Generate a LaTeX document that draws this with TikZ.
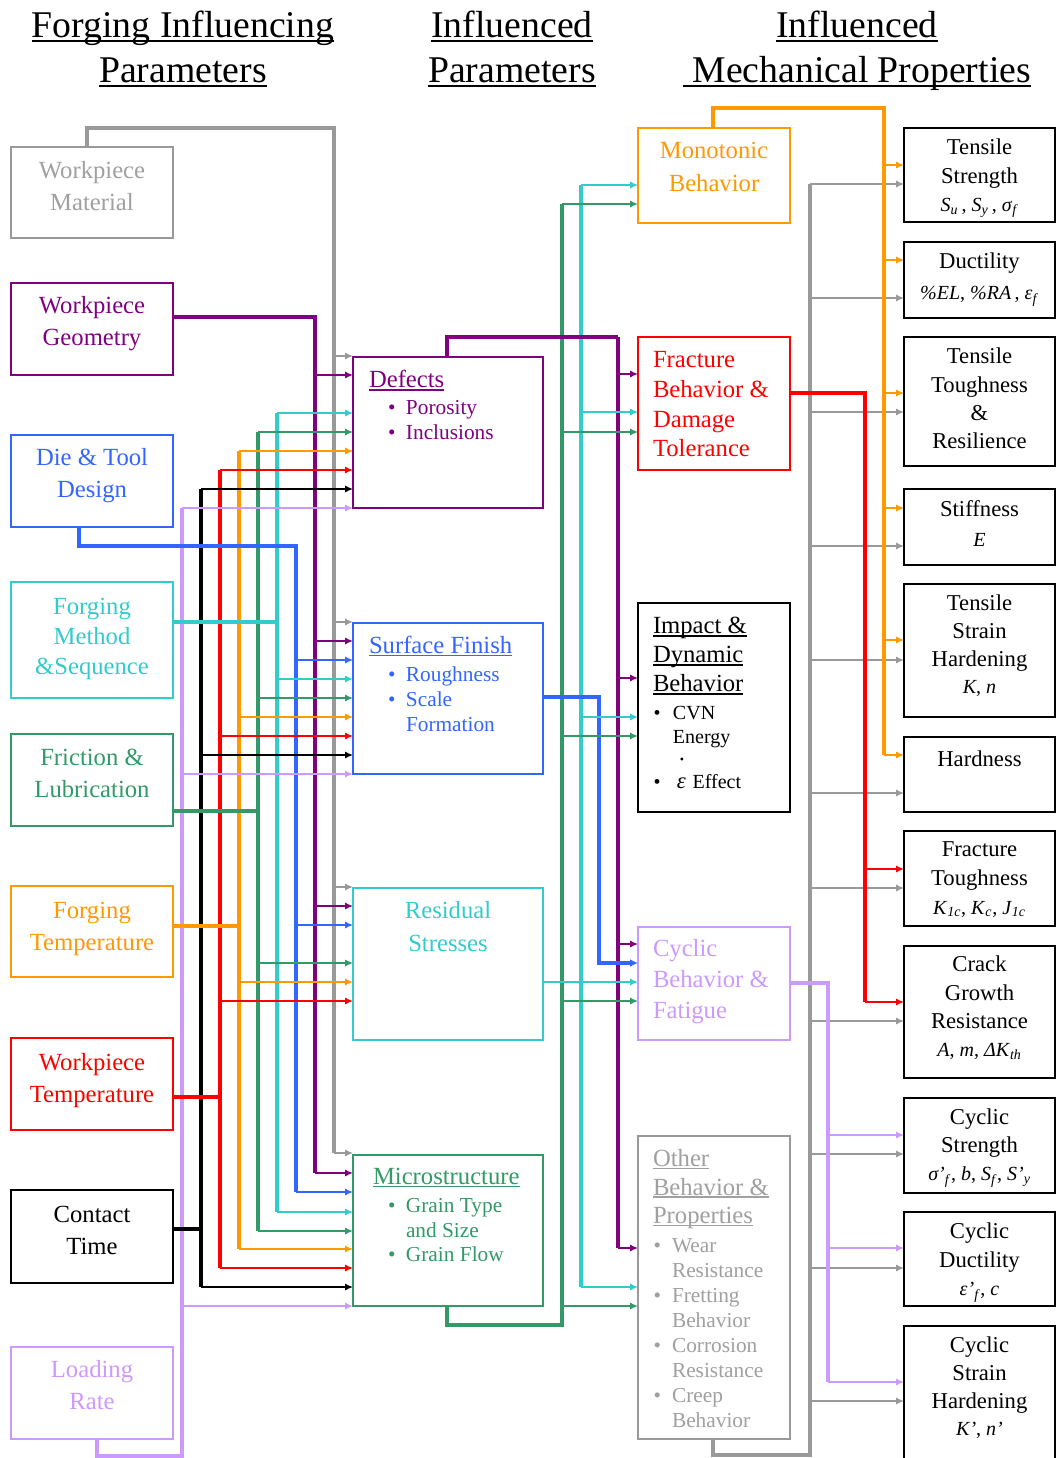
\documentclass[tikz,border=0pt]{standalone}
\usepackage{fontspec}
\setmainfont{Liberation Serif}
\usetikzlibrary{arrows.meta}
\definecolor{cgray}{HTML}{999999}
\definecolor{cgrayt}{HTML}{A0A0A0}
\definecolor{cpur}{HTML}{800080}
\definecolor{cblue}{HTML}{3366FF}
\definecolor{ccyan}{HTML}{33CCCC}
\definecolor{cgreen}{HTML}{339966}
\definecolor{corange}{HTML}{FF9900}
\definecolor{cred}{HTML}{FF0000}
\definecolor{clav}{HTML}{CC99FF}
\newsavebox\ulbx
\newcommand\ul[1]{\sbox\ulbx{#1}\rlap{\rule[-0.11em]{\wd\ulbx}{0.055em}}\usebox\ulbx}
\newcommand\fs[2]{\fontsize{#1}{#2}\selectfont}
\newcommand\bul[1]{\makebox[#1][l]{\textbullet}}
\newcommand\hng[1]{\makebox[#1]{}}
\newcommand\iv[2]{\textit{#1}\textsubscript{\textit{#2}}}
\newcommand\mkbox[6]{\node[bx,draw=#6,minimum width={(#4-#2)*0.75pt},minimum height={(#5-#3)*0.75pt}] (#1) at (#2,#3) {};}
\begin{document}
\begin{tikzpicture}[x=0.75pt,y=-0.75pt,line join=miter,
  bx/.style={rectangle,inner sep=0pt,outer sep=0pt,anchor=north west,line width=0.9pt},
  thk/.style={line width=3.2pt},
  bus/.style={line width=2.6pt},
  br/.style={line width=1.7pt,-{Latex[length=6pt,width=5.5pt]}},
  brt/.style={line width=3.2pt,-{Latex[length=6pt,width=6pt]}},
  tx/.style={inner sep=0pt,outer sep=0pt}]
\useasboundingbox (0,0) rectangle (1057,1458);
\clip (0,0) rectangle (1057,1458);
\fill[white] (0,0) rectangle (1057,1458);

% ---------- boxes ----------
\mkbox{mat}{11}{147}{173}{238}{cgray}
\mkbox{geo}{11}{283}{173}{375}{cpur}
\mkbox{die}{11}{435}{173}{527}{cblue}
\mkbox{fm}{11}{582}{173}{698}{ccyan}
\mkbox{fl}{11}{734}{173}{826}{cgreen}
\mkbox{ft}{11}{886}{173}{977}{corange}
\mkbox{wt}{11}{1038}{173}{1130}{cred}
\mkbox{ct}{11}{1190}{173}{1283}{black}
\mkbox{lr}{11}{1347}{173}{1439}{clav}

\mkbox{def}{353}{357}{543}{508}{cpur}
\mkbox{sf}{353}{623}{543}{774}{cblue}
\mkbox{rs}{353}{888}{543}{1040}{ccyan}
\mkbox{mic}{353}{1155}{543}{1306}{cgreen}

\mkbox{mono}{638}{128}{790}{223}{corange}
\mkbox{frac}{638}{337}{790}{470}{cred}
\mkbox{imp}{638}{603}{790}{812}{black}
\mkbox{cyc}{638}{927}{790}{1040}{clav}
\mkbox{oth}{638}{1136}{790}{1439}{cgray}

\mkbox{ts}{904}{128}{1055}{222}{black}
\mkbox{du}{904}{242}{1055}{318}{black}
\mkbox{tt}{904}{337}{1055}{466}{black}
\mkbox{st}{904}{489}{1055}{565}{black}
\mkbox{tsh}{904}{584}{1055}{717}{black}
\mkbox{hd}{904}{737}{1055}{812}{black}
\mkbox{ftg}{904}{831}{1055}{926}{black}
\mkbox{cg}{904}{946}{1055}{1078}{black}
\mkbox{cs}{904}{1098}{1055}{1193}{black}
\mkbox{cd}{904}{1212}{1055}{1306}{black}
\mkbox{csh}{904}{1326}{1055}{1470}{black}

% ---------- left routes ----------
\draw[thk,cgray] (87,0 |- mat.north) -- (87,128) -- (334,128) -- (334,1153);
\draw[thk,cpur] (geo.east |- 0,317) -- (315,317) -- (315,1173);
\draw[thk,clav] (97,0 |- lr.south) -- (97,1456) -- (182,1456) -- (182,508);
\draw[bus,black] (201,489) -- (201,1287);
\draw[thk,black] (ct.east |- 0,1229) -- (201,1229);
\draw[bus,cred] (220,470) -- (220,1268);
\draw[thk,cred] (wt.east |- 0,1097) -- (220,1097);
\draw[bus,corange] (239,451) -- (239,1249);
\draw[thk,corange] (ft.east |- 0,926) -- (239,926);
\draw[bus,cgreen] (258,432) -- (258,1231);
\draw[thk,cgreen] (fl.east |- 0,811) -- (258,811);
\draw[bus,ccyan] (277,413) -- (277,1212);
\draw[thk,ccyan] (fm.east |- 0,622) -- (277,622);
\draw[thk,cblue] (79,0 |- die.south) -- (79,546) -- (296,546) -- (296,1192);

% ---------- left branches ----------
\foreach \y/\n in {356/def,622/sf,887/rs,1153/mic} \draw[br,cgray] (334,\y) -- (\n.west |- 0,\y);
\foreach \y/\n in {375/def,641/sf,906/rs,1173/mic} \draw[br,cpur] (315,\y) -- (\n.west |- 0,\y);
\foreach \y/\n in {660/sf,925/rs,1192/mic} \draw[br,cblue] (296,\y) -- (\n.west |- 0,\y);
\foreach \y/\n in {413/def,679/sf,1212/mic} \draw[br,ccyan] (277,\y) -- (\n.west |- 0,\y);
\foreach \y/\n in {432/def,698/sf,963/rs,1231/mic} \draw[br,cgreen] (258,\y) -- (\n.west |- 0,\y);
\foreach \y/\n in {451/def,717/sf,982/rs,1249/mic} \draw[br,corange] (239,\y) -- (\n.west |- 0,\y);
\foreach \y/\n in {470/def,736/sf,1001/rs,1268/mic} \draw[br,cred] (220,\y) -- (\n.west |- 0,\y);
\foreach \y/\n in {489/def,755/sf,1287/mic} \draw[br,black] (201,\y) -- (\n.west |- 0,\y);
\foreach \y/\n in {508/def,774/sf,1306/mic} \draw[br,clav] (182,\y) -- (\n.west |- 0,\y);

% ---------- middle routes ----------
\draw[thk,cgreen] (447,0 |- mic.south) -- (447,1325) -- (562,1325) -- (562,204);
\draw[bus,ccyan] (581,185) -- (581,1287);
\draw[thk,cpur] (447,0 |- def.north) -- (447,337) -- (618,337);
\draw[bus,cpur] (618,337) -- (618,1248);
\draw[brt,cblue] (sf.east |- 0,697) -- (599,697) -- (599,963) -- (cyc.west |- 0,963);
\foreach \y/\n in {204/mono,432/frac,736/imp,1001/cyc,1306/oth} \draw[br,cgreen] (562,\y) -- (\n.west |- 0,\y);
\foreach \y/\n in {185/mono,412/frac,717/imp,1287/oth} \draw[br,ccyan] (581,\y) -- (\n.west |- 0,\y);
\draw[br,ccyan] (rs.east |- 0,982) -- (cyc.west |- 0,982);
\foreach \y/\n in {374/frac,678/imp,944/cyc,1248/oth} \draw[br,cpur] (618,\y) -- (\n.west |- 0,\y);

% ---------- right routes ----------
\draw[bus,cgray] (713,0 |- oth.south) -- (713,1455) -- (810,1455) -- (810,184);
\foreach \y/\n in {184/ts,298/du,412/tt,546/st,660/tsh,793/hd,888/ftg,1021/cg,1154/cs,1268/cd,1401/csh} \draw[br,cgray] (810,\y) -- (\n.west |- 0,\y);
\draw[thk,clav] (cyc.east |- 0,983) -- (828,983) -- (828,1382);
\foreach \y/\n in {1135/cs,1248/cd,1382/csh} \draw[br,clav] (828,\y) -- (\n.west |- 0,\y);
\draw[thk,cred] (frac.east |- 0,393) -- (865,393) -- (865,1002);
\foreach \y/\n in {869/ftg,1002/cg} \draw[br,cred] (865,\y) -- (\n.west |- 0,\y);
\draw[thk,corange] (713,0 |- mono.north) -- (713,108) -- (884,108) -- (884,755);
\foreach \y/\n in {165/ts,260/du,393/tt,508/st,640/tsh,755/hd} \draw[br,corange] (884,\y) -- (\n.west |- 0,\y);

% ---------- titles ----------
\node[tx,anchor=north,align=center,font=\fs{28.3}{34}] (t1) at (183,11) {\ul{Forging Influencing}\\\ul{Parameters}};
\node[tx,anchor=north,align=center,font=\fs{28.3}{34}] (t2) at (512,11) {\ul{Influenced}\\\ul{Parameters}};
\node[tx,anchor=north,align=center,font=\fs{28.3}{34}] (t3) at (857,11) {\ul{Influenced}\\\ul{\ Mechanical Properties}};

% ---------- left texts ----------
\node[tx,anchor=north,align=center,font=\fs{18.5}{24},text=cgrayt] (matT) at (92,161.5) {Workpiece\\Material};
\node[tx,anchor=north,align=center,font=\fs{18.5}{24},text=cpur] (geoT) at (92,296.5) {Workpiece\\Geometry};
\node[tx,anchor=north,align=center,font=\fs{18.5}{24},text=cblue] (dieT) at (92,448.5) {Die \& Tool\\Design};
\node[tx,anchor=north,align=center,font=\fs{18.5}{22.2},text=ccyan] (fmT) at (92,598.5) {Forging\\Method\\\&Sequence};
\node[tx,anchor=north,align=center,font=\fs{18.5}{24},text=cgreen] (flT) at (92,749.5) {Friction \&\\Lubrication};
\node[tx,anchor=north,align=center,font=\fs{18.5}{24},text=corange] (ftT) at (92,902.5) {Forging\\Temperature};
\node[tx,anchor=north,align=center,font=\fs{18.5}{24},text=cred] (wtT) at (92,1053.5) {Workpiece\\Temperature};
\node[tx,anchor=north,align=center,font=\fs{18.5}{24},text=black] (ctT) at (92,1206.5) {Contact\\Time};
\node[tx,anchor=north,align=center,font=\fs{18.5}{24},text=clav] (lrT) at (92,1360.5) {Loading\\Rate};

% ---------- middle texts ----------
\node[tx,anchor=north west,font=\fs{18.5}{24},text=cpur] (defH) at (369,370.5) {\ul{Defects}};
\node[tx,anchor=north west,align=left,font=\fs{16}{18.75},text=cpur] (defL) at (388,400.5) {\bul{13.5pt}Porosity\\\bul{13.5pt}Inclusions};
\node[tx,anchor=north west,font=\fs{18.5}{24},text=cblue] (sfH) at (369,636.4) {\ul{Surface Finish}};
\node[tx,anchor=north west,align=left,font=\fs{16}{18.75},text=cblue] (sfL) at (388,666.5) {\bul{13.5pt}Roughness\\\bul{13.5pt}Scale\\\hng{13.5pt}Formation};
\node[tx,anchor=north,align=center,font=\fs{18.5}{24.75},text=ccyan] (rsT) at (448,901.4) {Residual\\Stresses};
\node[tx,anchor=north west,font=\fs{18.5}{24},text=cgreen] (micH) at (373,1168.4) {\ul{Microstructure}};
\node[tx,anchor=north west,align=left,font=\fs{16}{18.4},text=cgreen] (micL) at (388,1198.5) {\bul{13.5pt}Grain Type\\\hng{13.5pt}and Size\\\bul{13.5pt}Grain Flow};

% ---------- behaviour texts ----------
\node[tx,anchor=north,align=center,font=\fs{18.5}{24.75},text=corange] (monoT) at (714,142.4) {Monotonic\\Behavior};
\node[tx,anchor=north west,align=left,font=\fs{18.5}{22.3},text=cred] (fracT) at (653,351.4) {Fracture\\Behavior \&\\Damage\\Tolerance};
\node[tx,anchor=north west,align=left,font=\fs{18.5}{21.75},text=black] (impH) at (653,617.4) {\ul{Impact \&}\\\ul{Dynamic}\\\ul{Behavior}};
\node[tx,anchor=north west,align=left,font=\fs{15}{18},text=black] (impL) at (653.5,706) {\bul{14.6pt}CVN\\\hng{14.6pt}Energy};
\node[tx,font=\fs{9}{10}] (impD) at (682,761) {\textbullet};
\node[tx,anchor=north west,font=\fs{15}{18},text=black] (impE) at (653.5,774) {\bul{14.6pt}\hspace{3pt}{\fs{17}{18}\textit{ε}}\hspace{5pt}Effect};
\node[tx,anchor=north west,align=left,font=\fs{18.5}{23.25},text=clav] (cycT) at (653,939.4) {Cyclic\\Behavior \&\\Fatigue};
\node[tx,anchor=north west,align=left,font=\fs{18.5}{21.4},text=cgrayt] (othH) at (653,1149.4) {\ul{Other}\\\ul{Behavior \&}\\\ul{Properties}};
\node[tx,anchor=north west,align=left,font=\fs{16}{18.7},text=cgrayt] (othL) at (653.5,1238.5) {\bul{13.9pt}Wear\\\hng{13.9pt}Resistance\\\bul{13.9pt}Fretting\\\hng{13.9pt}Behavior\\\bul{13.9pt}Corrosion\\\hng{13.9pt}Resistance\\\bul{13.9pt}Creep\\\hng{13.9pt}Behavior};

% ---------- property texts ----------
\node[tx,anchor=north,align=center,font=\fs{17}{21.3}] (tsT) at (979.5,139.1) {Tensile\\Strength\\{\fs{15}{21.3}\iv{S}{u}\,, \iv{S}{y}\,, \iv{σ}{f}}};
\node[tx,anchor=north,align=center,font=\fs{17}{23.25}] (duT) at (979.5,253.1) {Ductility\\{\fs{15}{23.25}\textit{\%EL}, \textit{\%RA}\,, \iv{ε}{f}}};
\node[tx,anchor=north,align=center,font=\fs{17}{21.2}] (ttT) at (979.5,348.1) {Tensile\\Toughness\\\&\\Resilience};
\node[tx,anchor=north,align=center,font=\fs{17}{22.5}] (stT) at (979.5,500.1) {Stiffness\\{\fs{15}{22.5}\textit{E}}};
\node[tx,anchor=north,align=center,font=\fs{17}{20.75}] (tshT) at (979.5,595.1) {Tensile\\Strain\\Hardening\\{\fs{15}{20.75}\textit{K}, \textit{n}}};
\node[tx,anchor=north,align=center,font=\fs{17}{21}] (hdT) at (979.5,751.1) {Hardness};
\node[tx,anchor=north,align=center,font=\fs{17}{21.4}] (ftgT) at (979.5,842.1) {Fracture\\Toughness\\{\fs{15}{21.4}\iv{K}{1c}, \iv{K}{c}, \iv{J}{1c}}};
\node[tx,anchor=north,align=center,font=\fs{17}{21.2}] (cgT) at (979.5,956.1) {Crack\\Growth\\Resistance\\{\fs{15}{21.2}\textit{A}, \textit{m}, \textit{ΔK}\textsubscript{\textit{th}}}};
\node[tx,anchor=north,align=center,font=\fs{17}{21}] (csT) at (979.5,1109.1) {Cyclic\\Strength\\{\fs{15}{21}\textit{σ’}\textsubscript{\textit{f}}, \textit{b}, \iv{S}{f}, \textit{S’}\textsubscript{\textit{y}}}};
\node[tx,anchor=north,align=center,font=\fs{17}{21.4}] (cdT) at (979.5,1223.1) {Cyclic\\Ductility\\{\fs{15}{21.4}\textit{ε’}\textsubscript{\textit{f}}, \textit{c}}};
\node[tx,anchor=north,align=center,font=\fs{17}{20.75}] (cshT) at (979.5,1337.1) {Cyclic\\Strain\\Hardening\\{\fs{15}{20.75}\textit{K’}, \textit{n’}}};
\end{tikzpicture}
\end{document}
